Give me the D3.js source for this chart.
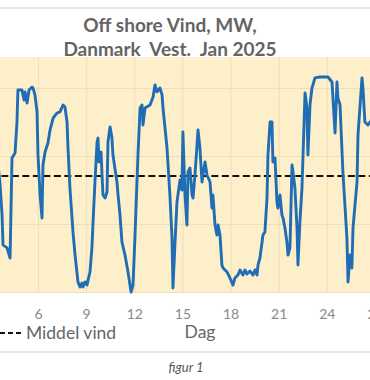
<!DOCTYPE html>
<html>
<head>
<meta charset="utf-8">
<script src="https://cdn.jsdelivr.net/npm/d3@7"></script>
<style>
  body { margin: 0; background: #fff; overflow: hidden; }
  svg { display: block; }
</style>
</head>
<body>
<svg id="chart"></svg>
<script>
var width = 370;
var height = 380;

// Offshore wind, DK West, Jan 2025
var days = [3.45, 3.63, 3.76, 3.82, 4.07, 4.26, 4.38, 4.57, 4.69, 4.75, 5.00, 5.13, 5.19, 5.32, 5.44, 5.63, 5.69, 5.81, 5.94,
  6.00, 6.13, 6.25, 6.31, 6.44, 6.62, 6.75, 6.94, 7.18, 7.37, 7.56, 7.68, 7.81, 7.87, 7.99, 8.18, 8.31, 8.49, 8.62, 8.74, 8.80, 8.93,
  9.05, 9.24, 9.36, 9.43, 9.55, 9.68, 9.74, 9.80, 9.93, 9.99, 10.05, 10.18, 10.30, 10.36, 10.49, 10.61, 10.67, 10.92, 10.99,
  11.11, 11.23, 11.42, 11.61, 11.80, 11.92, 12.04, 12.23, 12.36, 12.48, 12.54, 12.67, 12.98, 13.17, 13.29, 13.41, 13.60, 13.73, 13.79,
  14.04, 14.22, 14.35, 14.41, 14.54, 14.66, 14.85, 14.97, 15.03, 15.16, 15.28, 15.35, 15.47, 15.60, 15.66, 15.78, 15.91, 15.97,
  16.09, 16.22, 16.28, 16.41, 16.53, 16.72, 16.84, 16.90, 17.03, 17.15, 17.22, 17.34, 17.46, 17.53, 17.78, 17.96,
  18.15, 18.27, 18.46, 18.59, 18.77, 18.90, 19.02, 19.21, 19.40, 19.52, 19.65, 19.71, 19.83, 20.02, 20.14, 20.27, 20.33, 20.46, 20.58,
  20.64, 20.77, 20.89, 20.95, 21.08, 21.20, 21.27, 21.39, 21.51, 21.58, 21.70, 21.83, 21.89, 22.01, 22.14, 22.20, 22.32, 22.45,
  22.64, 22.76, 22.82, 22.95, 23.07, 23.13, 23.26, 23.57, 24.07, 24.32, 24.51, 24.63, 24.69, 24.82, 25.00, 25.25, 25.32, 25.44,
  25.56, 25.63, 25.88, 25.94, 26.19, 26.25, 26.37, 26.56, 26.69, 27.00];
var mw = [1000, 801, 566, 346, 324, 250, 985, 1022, 1250, 1485, 1485, 1412, 1471, 1390, 1485, 1507, 1500, 1449, 1324,
  1007, 713, 544, 934, 1029, 1096, 1191, 1279, 1316, 1324, 1375, 1360, 1250, 1059, 765, 441, 272, 74, 37, 66, 37, 74,
  51, 147, 324, 515, 809, 1103, 1132, 956, 1029, 860, 713, 691, 735, 1103, 1213, 1132, 1007, 809, 713,
  566, 368, 272, 147, 0, 51, 397, 1007, 1353, 1375, 1228, 1353, 1375, 1434, 1522, 1471, 1500, 1449, 1353,
  1059, 713, 397, 29, 368, 662, 824, 750, 1176, 713, 493, 882, 912, 713, 691, 860, 1081, 1191,
  1059, 809, 860, 956, 860, 809, 618, 713, 493, 419, 493, 419, 199, 176, 147, 103,
  51, 103, 125, 162, 125, 162, 132, 154, 125, 162, 125, 199, 250, 419, 441, 691, 1007, 1250, 1250,
  956, 985, 662, 618, 713, 566, 544, 471, 368, 272, 324, 934, 882, 765, 471, 199, 515, 765,
  1463, 1353, 1007, 1375, 1500, 1522, 1574, 1581, 1581, 1544, 1169, 1544, 1426, 1375, 882, 397, 74, 272,
  176, 471, 809, 1154, 1574, 1500, 1250, 1228, 1250, 1300];
var middel = 853;

var gridDays = [3, 6, 9, 12, 15, 18, 21, 24, 27];
var dayTicks = [6, 9, 12, 15, 18, 21, 24, 27];
var mwTicks = [0, 500, 1000, 1500];
var titleLines = ["Off shore Vind, MW,", "Danmark  Vest.  Jan 2025"];

var series = days.map(function(d, i) { return {day: d, mw: mw[i]}; });

var x = d3.scaleLinear().domain([6, 27]).range([38, 375]);
var y = d3.scaleLinear().domain([0, 1500]).range([292, 88]);
var plotTop = 57;

var svg = d3.select("#chart")
  .attr("width", width)
  .attr("height", height);

// border lines of the picture frame
svg.append("line").attr("x1", 0).attr("x2", width).attr("y1", 8).attr("y2", 8)
  .style("stroke", "#dedede").style("stroke-width", 1.5);
svg.append("line").attr("x1", 0).attr("x2", width).attr("y1", 352).attr("y2", 352)
  .style("stroke", "#e2e2e2").style("stroke-width", 1.5);

// plot background
svg.append("rect")
  .attr("x", x(3) - 20).attr("y", plotTop)
  .attr("width", x(27) - x(3) + 40).attr("height", y(0) - plotTop)
  .style("fill", "#fdefc9");

// grid lines
svg.append("g")
  .attr("class", "xgrid")
  .attr("transform", "translate(0," + y(0) + ")")
  .call(d3.axisBottom(x).tickValues(gridDays).tickSize(-(y(0) - plotTop)).tickFormat(""))
  .call(function(g) { g.select(".domain").remove(); })
  .selectAll("line").style("stroke", "#eedfb9").style("stroke-width", 1);

svg.append("g")
  .attr("class", "ygrid")
  .attr("transform", "translate(" + (x(3) - 20) + ",0)")
  .call(d3.axisLeft(y).tickValues(mwTicks).tickSize(-(x(27) - x(3) + 40)).tickFormat(""))
  .call(function(g) { g.select(".domain").remove(); })
  .selectAll("line").style("stroke", "#eedfb9").style("stroke-width", 1);

// day axis labels
svg.append("g")
  .attr("class", "xaxis")
  .attr("transform", "translate(0," + y(0) + ")")
  .call(d3.axisBottom(x).tickValues(dayTicks).tickSize(0).tickPadding(17))
  .call(function(g) { g.select(".domain").remove(); })
  .selectAll("text")
  .style("font-family", "Lato, 'Open Sans', sans-serif")
  .style("font-size", "14px")
  .style("fill", "#8a8a8a");

// middel vind (dashed)
svg.append("line")
  .attr("x1", x(3) - 20).attr("x2", x(27) + 20)
  .attr("y1", y(middel)).attr("y2", y(middel))
  .style("stroke", "#111").style("stroke-width", 2.2)
  .style("stroke-dasharray", "7,3.5");

// wind line
var line = d3.line()
  .x(function(d) { return x(d.day); })
  .y(function(d) { return y(d.mw); });

svg.append("path")
  .datum(series)
  .attr("d", line)
  .style("fill", "none")
  .style("stroke", "#1f6db4")
  .style("stroke-width", 2.9)
  .style("stroke-linejoin", "round");

// title
svg.append("g").selectAll("text")
  .data(titleLines)
  .enter()
  .append("text")
  .attr("x", 170)
  .attr("y", function(d, i) { return 32 + i * 24; })
  .attr("text-anchor", "middle")
  .style("white-space", "pre")
  .style("font-family", "Lato, 'Open Sans', sans-serif")
  .style("font-weight", "bold")
  .style("font-size", "19px")
  .style("fill", "#646464")
  .text(function(d) { return d; });

// legend
svg.append("line")
  .attr("x1", 0).attr("x2", 21).attr("y1", 333).attr("y2", 333)
  .style("stroke", "#111").style("stroke-width", 2.2)
  .style("stroke-dasharray", "5,3");
svg.append("text")
  .attr("x", 26).attr("y", 339)
  .style("font-family", "Lato, 'Open Sans', sans-serif")
  .style("font-size", "17.5px")
  .style("fill", "#666")
  .text("Middel vind");

svg.append("text")
  .attr("x", 200).attr("y", 338)
  .attr("text-anchor", "middle")
  .style("font-family", "Lato, 'Open Sans', sans-serif")
  .style("font-size", "17.5px")
  .style("fill", "#666")
  .text("Dag");

svg.append("text")
  .attr("x", 186).attr("y", 372)
  .attr("text-anchor", "middle")
  .style("font-family", "Lato, 'Open Sans', sans-serif")
  .style("font-style", "italic")
  .style("font-size", "13px")
  .style("fill", "#555")
  .text("figur 1");
</script>
</body>
</html>
